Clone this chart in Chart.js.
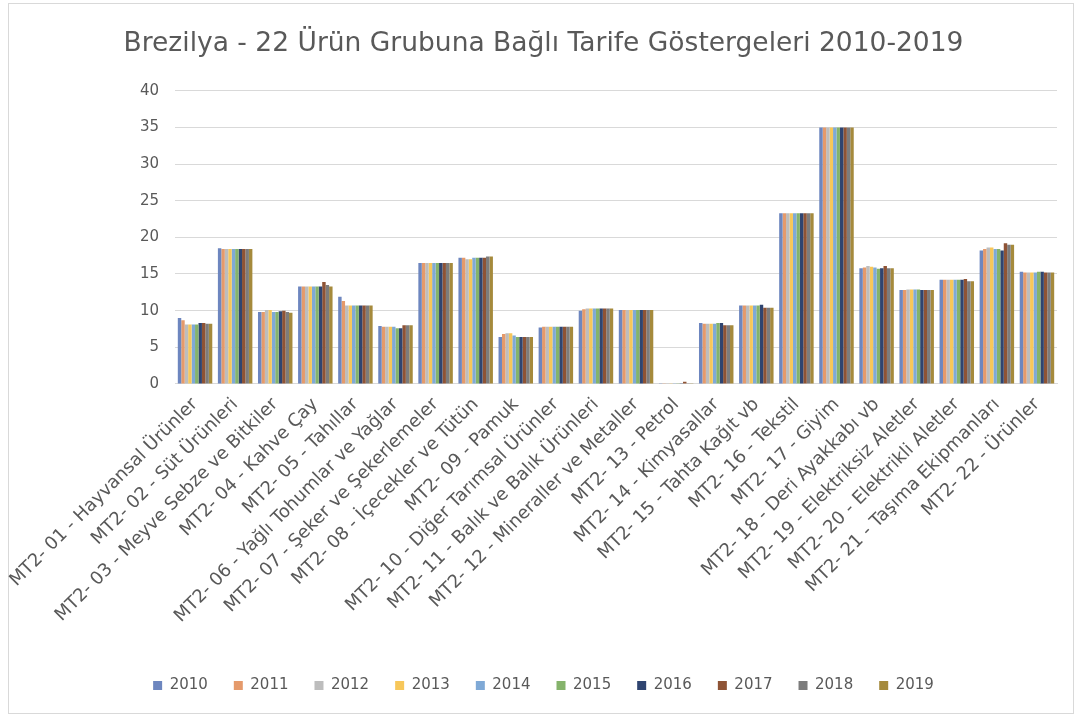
<!DOCTYPE html>
<html>
<head>
<meta charset="utf-8">
<script src="https://cdn.jsdelivr.net/npm/chart.js@4"></script>
<style>
  html, body { margin: 0; padding: 0; background: #fff; }
  #wrap { position: relative; width: 1077px; height: 717px; }
  #frame { position: absolute; left: 8px; top: 3px; width: 1066px; height: 711px; border: 1px solid #d9d9d9; box-sizing: border-box; }
  canvas { position: absolute; left: 0; top: 0; }
</style>
</head>
<body>
<div id="wrap">
  <div id="frame"></div>
  <canvas id="ourChart" width="1077" height="717"></canvas>
</div>
<script>
const categories = [
    "MT2- 01 - Hayvansal Ürünler",
    "MT2- 02 - Süt Ürünleri",
    "MT2- 03 - Meyve Sebze ve Bitkiler",
    "MT2- 04 - Kahve Çay",
    "MT2- 05 - Tahıllar",
    "MT2- 06 - Yağlı Tohumlar ve Yağlar",
    "MT2- 07 - Şeker ve Şekerlemeler",
    "MT2- 08 - İçecekler ve Tütün",
    "MT2- 09 - Pamuk",
    "MT2- 10 - Diğer Tarımsal Ürünler",
    "MT2- 11 - Balık ve Balık Ürünleri",
    "MT2- 12 - Mineraller ve Metaller",
    "MT2- 13 - Petrol",
    "MT2- 14 - Kimyasallar",
    "MT2- 15 - Tahta Kağıt vb",
    "MT2- 16 - Tekstil",
    "MT2- 17 - Giyim",
    "MT2- 18 - Deri Ayakkabı vb",
    "MT2- 19 - Elektriksiz Aletler",
    "MT2- 20 - Elektrikli Aletler",
    "MT2- 21 - Taşıma Ekipmanları",
    "MT2- 22 - Ürünler"
];

const years = ["2010", "2011", "2012", "2013", "2014", "2015", "2016", "2017", "2018", "2019"];

// one array per year, 22 values each (in category order)
const v2010 = [9.0, 18.5, 9.8, 13.3, 11.9, 7.9, 16.5, 17.2, 6.4, 7.7, 10.0, 10.1, 0.1, 8.3, 10.7, 23.3, 35.0, 15.8, 12.8, 14.2, 18.2, 15.3];
const v2011 = [8.7, 18.4, 9.8, 13.3, 11.3, 7.8, 16.5, 17.2, 6.8, 7.8, 10.2, 10.1, 0.1, 8.2, 10.7, 23.3, 35.0, 15.9, 12.8, 14.2, 18.4, 15.2];
const v2012 = [8.1, 18.4, 10.1, 13.3, 10.7, 7.8, 16.5, 17.0, 6.9, 7.8, 10.3, 10.1, 0.1, 8.2, 10.7, 23.3, 35.0, 16.1, 12.9, 14.2, 18.6, 15.2];
const v2013 = [8.1, 18.4, 10.1, 13.3, 10.7, 7.8, 16.5, 17.0, 6.9, 7.8, 10.3, 10.1, 0.1, 8.2, 10.7, 23.3, 35.0, 16.0, 12.9, 14.2, 18.6, 15.2];
const v2014 = [8.1, 18.4, 9.8, 13.3, 10.7, 7.8, 16.5, 17.2, 6.6, 7.8, 10.3, 10.1, 0.1, 8.2, 10.7, 23.3, 35.0, 15.9, 12.9, 14.2, 18.4, 15.2];
const v2015 = [8.1, 18.4, 9.8, 13.3, 10.7, 7.6, 16.5, 17.2, 6.4, 7.8, 10.3, 10.1, 0.1, 8.3, 10.7, 23.3, 35.0, 15.7, 12.9, 14.2, 18.4, 15.3];
const v2016 = [8.3, 18.4, 9.9, 13.3, 10.7, 7.6, 16.5, 17.2, 6.4, 7.8, 10.3, 10.1, 0.1, 8.3, 10.8, 23.3, 35.0, 15.8, 12.8, 14.2, 18.2, 15.3];
const v2017 = [8.3, 18.4, 10.0, 13.9, 10.7, 8.0, 16.5, 17.2, 6.4, 7.8, 10.3, 10.1, 0.3, 8.0, 10.4, 23.3, 35.0, 16.1, 12.8, 14.3, 19.2, 15.2];
const v2018 = [8.2, 18.4, 9.8, 13.5, 10.7, 8.0, 16.5, 17.4, 6.4, 7.8, 10.3, 10.1, 0.1, 8.0, 10.4, 23.3, 35.0, 15.8, 12.8, 14.0, 19.0, 15.2];
const v2019 = [8.2, 18.4, 9.7, 13.3, 10.7, 8.0, 16.5, 17.4, 6.4, 7.8, 10.3, 10.1, 0.1, 8.0, 10.4, 23.3, 35.0, 15.8, 12.8, 14.0, 19.0, 15.2];

const yTicks = [0, 5, 10, 15, 20, 25, 30, 35, 40];

const seriesValues = [v2010, v2011, v2012, v2013, v2014, v2015, v2016, v2017, v2018, v2019];
const seriesColors = ['#6d86bf', '#e59a6b', '#bdbdbd', '#f7c75a', '#7fa9d6', '#85b36b', '#2f4470', '#8e5335', '#7c7c7c', '#a58a3c'];

const ourCanvas = document.getElementById("ourChart");

new Chart(ourCanvas, {
    type: 'bar',
    data: {
        labels: categories,
        datasets: years.map((y, i) => ({
            label: y,
            data: seriesValues[i],
            backgroundColor: seriesColors[i],
            borderWidth: 0,
            barPercentage: 1.0,
            categoryPercentage: 0.86,
        }))
    },
    options: {
        responsive: false,
        animation: false,
        layout: {
            padding: { left: 30, right: 20, top: 10, bottom: 14 }
        },
        plugins: {
            title: {
                display: true,
                text: "Brezilya - 22 Ürün Grubuna Bağlı Tarife Göstergeleri 2010-2019",
                color: "#595959",
                font: { family: "DejaVu Sans", size: 26.5, weight: "normal" },
                padding: { top: 18, bottom: 31 }
            },
            legend: {
                display: true,
                position: "bottom",
                labels: {
                    boxWidth: 9,
                    boxHeight: 9,
                    padding: 26,
                    color: "#595959",
                    font: { family: "DejaVu Sans", size: 15 }
                }
            },
            tooltip: { enabled: false }
        },
        scales: {
            x: {
                grid: { display: false },
                border: { color: "#d9d9d9" },
                afterFit: (axis) => { axis.height += 23; },
                ticks: {
                    color: "#595959",
                    font: { family: "DejaVu Sans", size: 18 },
                    minRotation: 45,
                    maxRotation: 45,
                    autoSkip: false,
                    padding: 2
                }
            },
            y: {
                min: 0,
                max: 40,
                afterBuildTicks: (axis) => { axis.ticks = yTicks.map(v => ({ value: v })); },
                afterFit: (axis) => { axis.width = 145; },
                grid: { color: "#d9d9d9", drawTicks: false },
                border: { display: false },
                ticks: {
                    color: "#595959",
                    font: { family: "DejaVu Sans", size: 15 },
                    padding: 16
                }
            }
        }
    }
});
</script>
</body>
</html>
